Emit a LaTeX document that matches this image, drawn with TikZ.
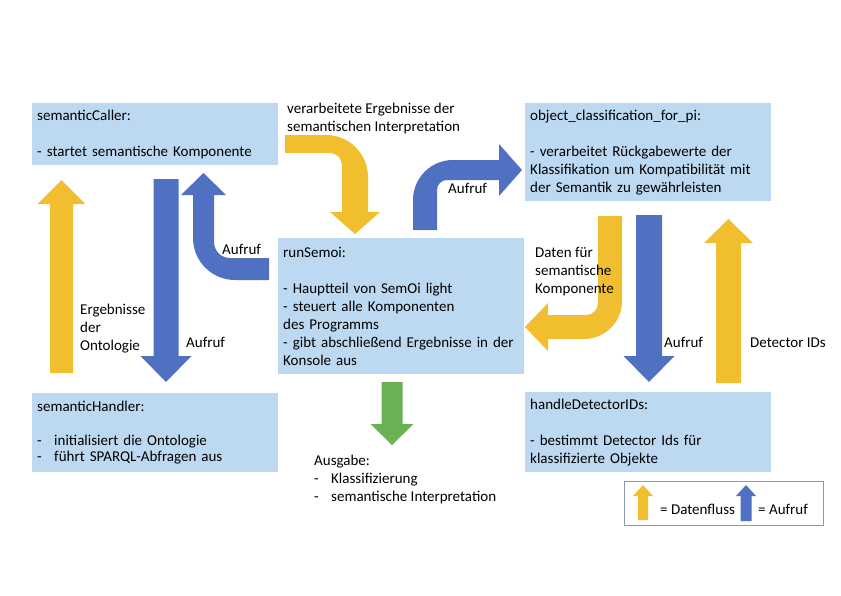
\documentclass[tikz,border=0pt]{standalone}
\usepackage{fontspec}
\setmainfont{Carlito}
\usepackage{tikz}

\definecolor{boxblue}{HTML}{BDD9F2}
\definecolor{datayellow}{HTML}{F0BE2F}
\definecolor{callblue}{HTML}{5070C2}
\definecolor{outgreen}{HTML}{6AB155}
\definecolor{legendgray}{HTML}{8A9AB0}

\newcommand{\vblock}[7]{%
  \fill[#1] (#2-#6,#3) -- (#2-#6,#4) -- (#2-#7,#4) -- (#2,#5) -- (#2+#7,#4) -- (#2+#6,#4) -- (#2+#6,#3) -- cycle;}

\begin{document}
\begin{tikzpicture}[x=1pt, y=-1pt, font=\fontsize{15}{18}\selectfont,
  box/.style={fill=boxblue, anchor=north west, inner xsep=5pt, inner ysep=3pt, text width=236pt, align=left},
  lbl/.style={anchor=north west, inner sep=0pt, align=left}]
\def \dash {\makebox[17pt][l]{-}}

\useasboundingbox (0,0) rectangle (841,595);

\node[box, minimum height=62pt] (caller) at (32,103) {semanticCaller:\\[18pt]- startet semantische Komponente};
\node[box, minimum height=98pt] (objclass) at (525,103) {object\_classification\_for\_pi:\\[18pt]- verarbeitet Rückgabewerte der\\Klassifikation um Kompatibilität mit\\der Semantik zu gewährleisten};
\node[box, minimum height=136pt] (runsemoi) at (278,238) {runSemoi:\\[18pt]- Hauptteil von SemOi light\\- steuert alle Komponenten\\des Programms\\- gibt abschließend Ergebnisse in der\\Konsole aus};
\node[box, minimum height=79pt] (handler) at (32,393) {semanticHandler:\\[16pt]\dash initialisiert die Ontologie\\[-2pt]\dash führt SPARQL-Abfragen aus};
\node[box, minimum height=80pt] (detector) at (525,392) {handleDetectorIDs:\\[18pt]- bestimmt Detector Ids für\\klassifizierte Objekte};

\vblock{datayellow}{61.5}{373}{204}{180}{11.5}{24}
\vblock{callblue}{166}{179}{356}{382}{12.5}{25.5}
\vblock{callblue}{649}{215}{356}{382}{13}{25.5}
\vblock{datayellow}{728.5}{383}{243}{219}{12.5}{24.5}
\vblock{outgreen}{392}{382}{424}{445}{10.5}{21.5}

\fill[callblue] (203.5,173) -- (226,195) -- (214,195) [rounded corners=16pt] -- (214,258) [sharp corners] -- (269,258) -- (269,280) [rounded corners=42pt] -- (193,280) [sharp corners] -- (193,195) -- (181,195) -- cycle;
\fill[datayellow] (285,135) [rounded corners=42pt] -- (368,135) [sharp corners] -- (368,212) -- (380,212) -- (355,234) -- (330,212) -- (342,212) [rounded corners=12pt] -- (342,153) [sharp corners] -- (285,153) -- cycle;
\fill[callblue] (413,230) [rounded corners=40pt] -- (413,160) [sharp corners] -- (499,160) -- (499,144) -- (522,170) -- (499,196) -- (499,180) [rounded corners=10pt] -- (437,180) [sharp corners] -- (437,230) -- cycle;
\fill[datayellow] (598,216) -- (622,216) [rounded corners=38pt] -- (622,339) [sharp corners] -- (548,339) -- (548,351) -- (525,327) -- (548,303) -- (548,315) [rounded corners=12pt] -- (598,315) [sharp corners] -- cycle;

\node[lbl] (interp) at (287,103) {verarbeitete Ergebnisse der\\semantischen Interpretation};
\node[lbl] (daten) at (535,247) {Daten für\\semantische\\Komponente};
\node[lbl] (ontology) at (80,304) {Ergebnisse\\der\\Ontologie};
\node[lbl] (callhandler) at (186,337) {Aufruf};
\node[lbl] (callcaller) at (222,244) {Aufruf};
\node[lbl] (callclass) at (448,183) {Aufruf};
\node[lbl] (calldetector) at (664,337) {Aufruf};
\node[lbl] (detectorids) at (750,338) {Detector IDs};
\node[lbl] (ausgabe) at (314,455) {Ausgabe:\\\dash Klassifizierung\\\dash semantische Interpretation};

\node[draw=legendgray, fill=white, anchor=north west, minimum width=199pt, minimum height=44pt] (legend) at (624,481) {};
\vblock{datayellow}{643}{520}{496}{485}{5}{10}
\vblock{callblue}{746}{521}{496}{485}{5.5}{10}
\node[lbl] (legdata) at (660,504) {= Datenfluss};
\node[lbl] (legcall) at (758,504) {= Aufruf};

\end{tikzpicture}
\end{document}
